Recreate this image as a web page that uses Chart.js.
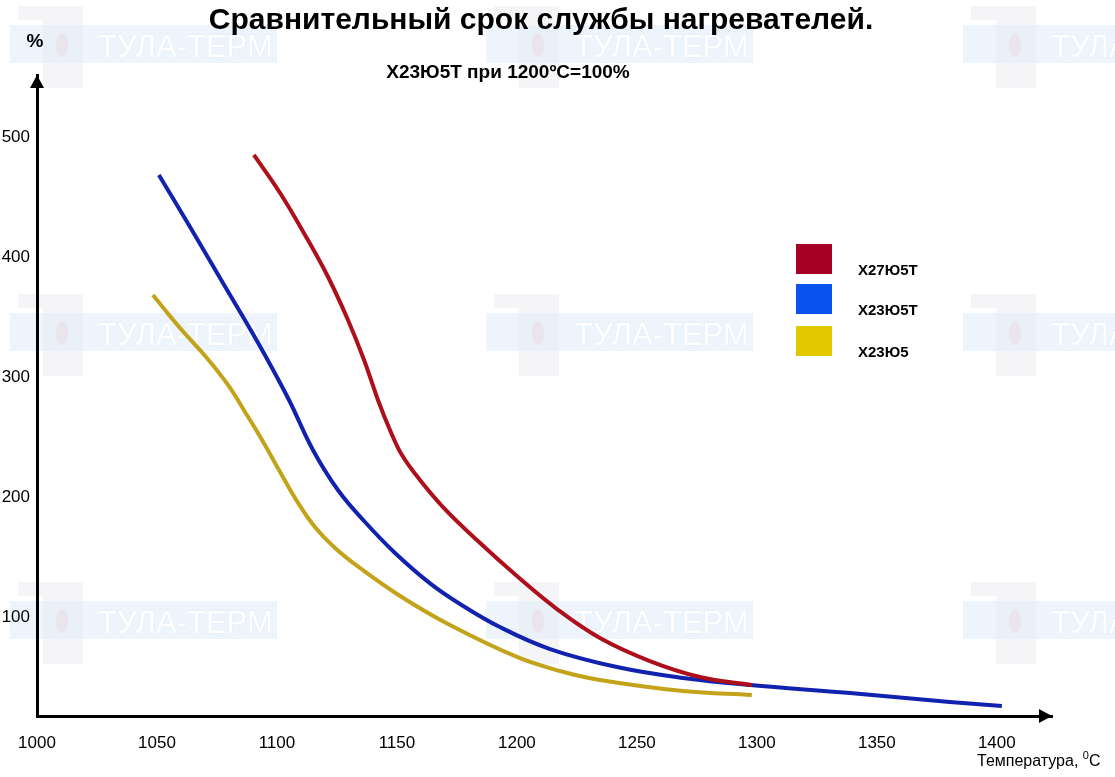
<!DOCTYPE html>
<html lang="ru">
<head>
  <meta charset="UTF-8">
  <title>Сравнительный срок службы нагревателей</title>
  <script src="https://cdn.jsdelivr.net/npm/chart.js"></script>
  <style>
    html, body {
      margin: 0;
      padding: 0;
      background: #ffffff;
      overflow: hidden;
    }
    #lifeChart {
      display: block;
    }
  </style>
</head>
<body>
  <canvas id="lifeChart" width="1115" height="777"></canvas>

  <script>
    // values: temperature, °C -> service life, %
    const x27Temp = [1090.4, 1101.3, 1111.7, 1121.3, 1129.6, 1136.3, 1142.1, 1147.1, 1152.1, 1159.6, 1169.2, 1183.3, 1200, 1216.7, 1234.6, 1255.4, 1276.3, 1298];
    const x27Life = [485.4, 453.7, 418.7, 383.7, 347.9, 314.6, 281.3, 256.3, 235.4, 214.6, 192.1, 164.6, 134.6, 107.1, 83, 63.8, 50.5, 43.8];

    const x23tTemp = [1050.8, 1063.8, 1077.5, 1091.7, 1104.6, 1115, 1125.4, 1136.7, 1149.2, 1163.8, 1176.3, 1192.9, 1213.8, 1241.7, 1269.2, 1297.1, 1338.8, 1380.4, 1402.1];
    const x23tLife = [468.7, 425.4, 378.7, 330.4, 282.9, 239.6, 206.3, 179.6, 153.8, 128.5, 111.3, 92.1, 73.8, 58.8, 49.7, 43.8, 37.2, 29.7, 26.3];

    const x23Temp = [1048.3, 1059.6, 1070.8, 1079.6, 1086.7, 1093.8, 1101.3, 1108.8, 1115.8, 1124.2, 1134.6, 1151.3, 1172.1, 1200, 1217.9, 1234.6, 1269.2, 1297.9];
    const x23Life = [368.7, 341.2, 316.3, 293.8, 271.3, 247.9, 221.3, 195.5, 175.5, 158, 141.3, 118, 93.8, 67.2, 55.5, 48, 38.8, 35.5];

    const seriesNames = ['Х27Ю5Т', 'Х23Ю5Т', 'Х23Ю5'];
    const xTicks = [1000, 1050, 1100, 1150, 1200, 1250, 1300, 1350, 1400];
    const yTicks = [100, 200, 300, 400, 500];

    const FONT = '"Liberation Sans", Arial, sans-serif';

    function toPoints(xs, ys) {
      return xs.map((x, i) => ({ x: x, y: ys[i] }));
    }

    // faint "ТУЛА-ТЕРМ" logos behind the chart
    const watermarkPlugin = {
      id: 'watermark',
      beforeDraw(chart) {
        const ctx = chart.ctx;
        ctx.save();
        ctx.fillStyle = '#ffffff';
        ctx.fillRect(0, 0, chart.width, chart.height);
        const cols = [10, 486, 963];
        const rows = [25, 313, 601];
        rows.forEach(by => {
          cols.forEach(bx => {
            ctx.fillStyle = '#f5f5f7';
            ctx.fillRect(bx + 8, by - 19, 65, 14);
            ctx.fillRect(bx + 33, by - 5, 40, 68);
            ctx.fillStyle = 'rgba(225, 237, 249, 0.6)';
            ctx.fillRect(bx, by, 267, 38);
            ctx.fillStyle = 'rgba(240, 170, 170, 0.15)';
            ctx.beginPath();
            ctx.ellipse(bx + 52, by + 20, 6, 12, 0, 0, Math.PI * 2);
            ctx.fill();
            ctx.font = '31px ' + FONT;
            ctx.textAlign = 'left';
            ctx.textBaseline = 'alphabetic';
            ctx.fillStyle = '#ffffff';
            ctx.strokeStyle = '#e3edf7';
            ctx.lineWidth = 1;
            ctx.strokeText('ТУЛА-ТЕРМ', bx + 88, by + 32);
            ctx.fillText('ТУЛА-ТЕРМ', bx + 88, by + 32);
          });
        });
        ctx.restore();
      }
    };

    // arrows, titles, custom legend
    const decorPlugin = {
      id: 'decor',
      afterDraw(chart) {
        const ctx = chart.ctx;
        const a = chart.chartArea;
        ctx.save();
        ctx.fillStyle = '#000';

        // arrow heads on both axes
        ctx.beginPath();
        ctx.moveTo(a.left, a.top);
        ctx.lineTo(a.left - 7, a.top + 13);
        ctx.lineTo(a.left + 7, a.top + 13);
        ctx.closePath();
        ctx.fill();
        ctx.beginPath();
        ctx.moveTo(a.right, a.bottom);
        ctx.lineTo(a.right - 13, a.bottom - 7);
        ctx.lineTo(a.right - 13, a.bottom + 7);
        ctx.closePath();
        ctx.fill();

        ctx.textBaseline = 'alphabetic';
        ctx.textAlign = 'center';
        ctx.font = 'bold 30px ' + FONT;
        ctx.fillText('Сравнительный срок службы нагревателей.', 541, 29);
        ctx.font = 'bold 19px ' + FONT;
        ctx.fillText('Х23Ю5Т при 1200ºС=100%', 508, 78);
        ctx.fillText('%', 35, 47);

        // x axis title with raised "0"
        ctx.textAlign = 'left';
        ctx.font = '16px ' + FONT;
        const t = 'Температура, ';
        ctx.fillText(t, 977, 766);
        let w = ctx.measureText(t).width;
        ctx.font = '11px ' + FONT;
        ctx.fillText('0', 977 + w, 759);
        w += ctx.measureText('0').width;
        ctx.font = '16px ' + FONT;
        ctx.fillText('С', 977 + w, 766);

        // legend squares and labels
        const boxTop = [244, 284, 326];
        chart.data.datasets.forEach((ds, i) => {
          ctx.fillStyle = ds.backgroundColor;
          ctx.fillRect(796, boxTop[i], 36, 30);
          ctx.fillStyle = '#000';
          ctx.font = 'bold 15px ' + FONT;
          ctx.fillText(ds.label, 858, boxTop[i] + 31);
        });
        ctx.restore();
      }
    };

    new Chart(document.getElementById('lifeChart'), {
      type: 'line',
      data: {
        datasets: [
          {
            label: seriesNames[0],
            data: toPoints(x27Temp, x27Life),
            borderColor: '#ad0f1b',
            backgroundColor: '#a60026'
          },
          {
            label: seriesNames[1],
            data: toPoints(x23tTemp, x23tLife),
            borderColor: '#1022ae',
            backgroundColor: '#0a52ee'
          },
          {
            label: seriesNames[2],
            data: toPoints(x23Temp, x23Life),
            borderColor: '#c2a31a',
            backgroundColor: '#e2c800'
          }
        ]
      },
      options: {
        responsive: false,
        animation: false,
        devicePixelRatio: 1,
        layout: { padding: { top: 75, right: 63, left: 0, bottom: 0 } },
        elements: {
          line: { borderWidth: 4, tension: 0.4, fill: false },
          point: { radius: 0, hoverRadius: 0 }
        },
        plugins: {
          legend: { display: false },
          title: { display: false },
          tooltip: { enabled: false }
        },
        scales: {
          x: {
            type: 'linear',
            min: 1000,
            max: 1423,
            grid: { display: false, drawTicks: false },
            border: { display: true, color: '#000', width: 3 },
            afterBuildTicks: s => { s.ticks = xTicks.map(v => ({ value: v })); },
            afterFit: s => { s.height = 61; },
            ticks: {
              padding: 17,
              color: '#000',
              maxRotation: 0,
              autoSkip: false,
              font: { family: FONT, size: 17 },
              callback: v => String(v)
            }
          },
          y: {
            type: 'linear',
            min: 18,
            max: 552,
            grid: { display: false, drawTicks: false },
            border: { display: true, color: '#000', width: 3 },
            afterBuildTicks: s => { s.ticks = yTicks.map(v => ({ value: v })); },
            afterFit: s => { s.width = 37; },
            ticks: {
              padding: 7,
              color: '#000',
              autoSkip: false,
              font: { family: FONT, size: 17 },
              callback: v => String(v)
            }
          }
        }
      },
      plugins: [watermarkPlugin, decorPlugin]
    });
  </script>
</body>
</html>
